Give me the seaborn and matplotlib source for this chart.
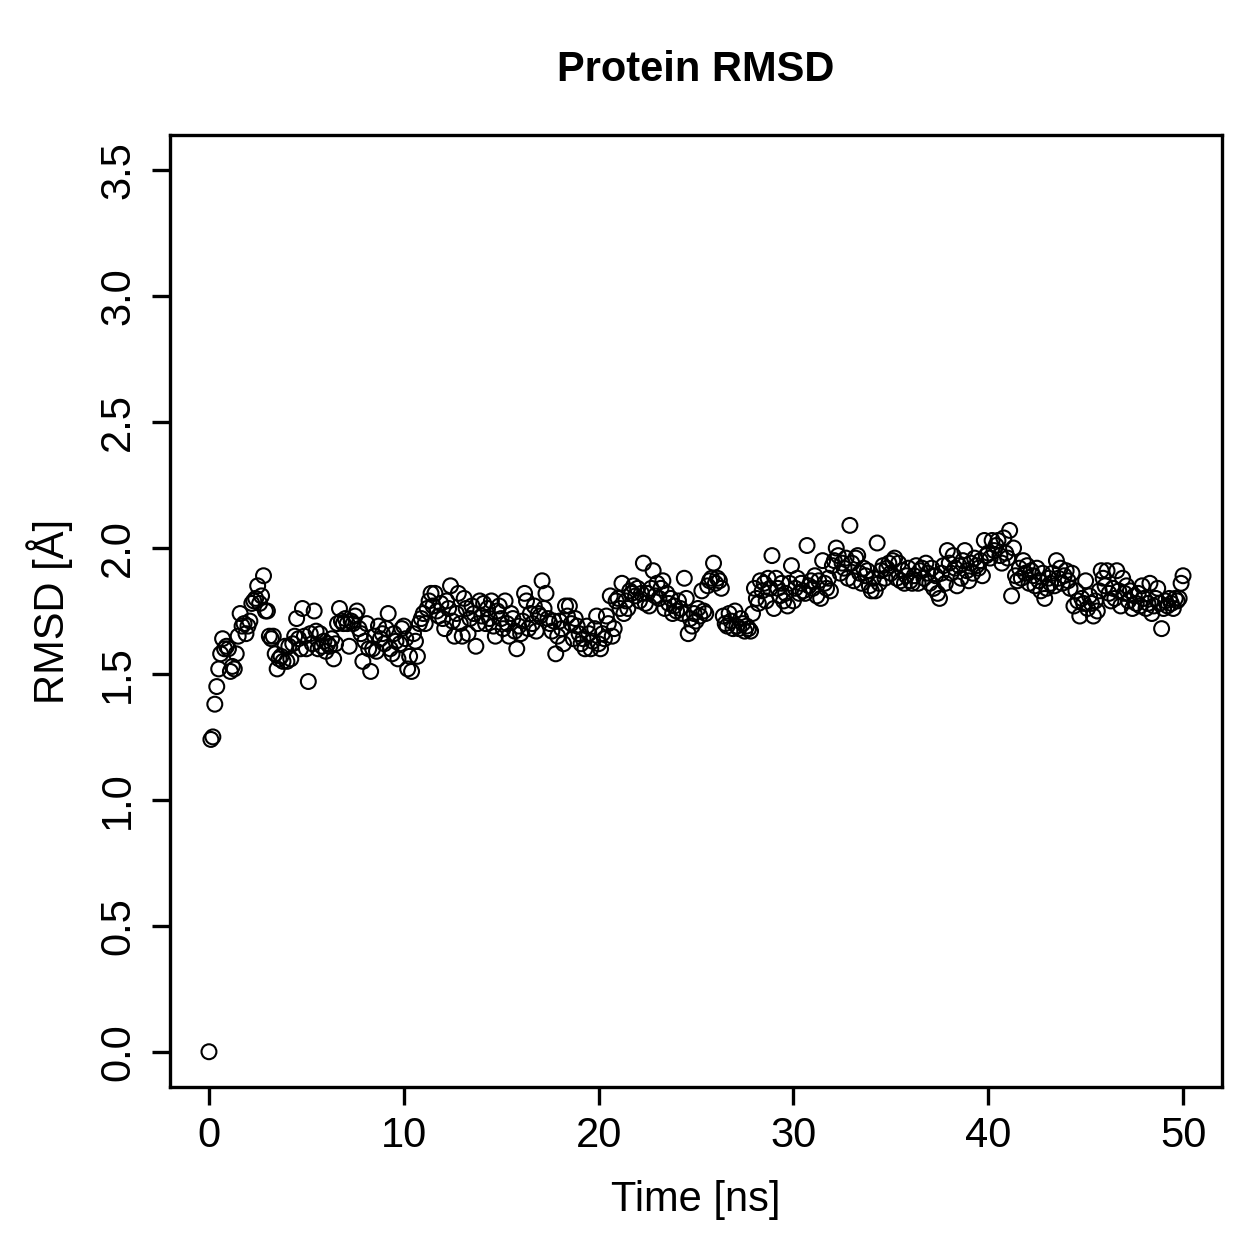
import numpy as np
import pandas as pd
import matplotlib
matplotlib.use("Agg")
import matplotlib.pyplot as plt
import seaborn as sns

# RMSD values every 0.1 ns (0.0 .. 50.0 ns)
rmsd_00_05 = [0.00, 1.24, 1.25, 1.38, 1.45, 1.52, 1.58, 1.64, 1.60, 1.61,
              1.60, 1.51, 1.53, 1.52, 1.58, 1.65, 1.74, 1.69, 1.70, 1.66,
              1.69, 1.71, 1.78, 1.79, 1.80, 1.85, 1.78, 1.81, 1.89, 1.75,
              1.75, 1.65, 1.64, 1.65, 1.58, 1.52, 1.56, 1.57, 1.55, 1.61,
              1.55, 1.61, 1.56, 1.62, 1.65, 1.72, 1.64, 1.60, 1.76, 1.65]
rmsd_05_10 = [1.60, 1.47, 1.66, 1.62, 1.75, 1.67, 1.60, 1.66, 1.61, 1.63,
              1.59, 1.62, 1.61, 1.64, 1.56, 1.62, 1.70, 1.76, 1.71, 1.70,
              1.72, 1.70, 1.61, 1.71, 1.70, 1.73, 1.75, 1.68, 1.66, 1.55,
              1.63, 1.70, 1.60, 1.51, 1.60, 1.65, 1.59, 1.69, 1.64, 1.66,
              1.62, 1.68, 1.74, 1.60, 1.58, 1.66, 1.63, 1.56, 1.62, 1.68]
rmsd_10_15 = [1.69, 1.64, 1.52, 1.57, 1.51, 1.66, 1.63, 1.57, 1.70, 1.72,
              1.74, 1.70, 1.76, 1.79, 1.82, 1.77, 1.82, 1.75, 1.73, 1.78,
              1.72, 1.68, 1.79, 1.76, 1.85, 1.71, 1.65, 1.74, 1.82, 1.70,
              1.65, 1.80, 1.76, 1.66, 1.72, 1.77, 1.74, 1.61, 1.70, 1.79,
              1.73, 1.78, 1.70, 1.76, 1.72, 1.79, 1.69, 1.65, 1.75, 1.77]
rmsd_15_20 = [1.72, 1.68, 1.79, 1.70, 1.65, 1.74, 1.72, 1.67, 1.60, 1.69,
              1.66, 1.71, 1.82, 1.79, 1.68, 1.74, 1.70, 1.77, 1.67, 1.74,
              1.73, 1.87, 1.76, 1.82, 1.72, 1.70, 1.67, 1.71, 1.58, 1.65,
              1.71, 1.68, 1.62, 1.77, 1.73, 1.77, 1.70, 1.64, 1.72, 1.69,
              1.66, 1.62, 1.64, 1.60, 1.69, 1.66, 1.60, 1.63, 1.68, 1.73]
rmsd_20_25 = [1.62, 1.60, 1.66, 1.64, 1.73, 1.70, 1.81, 1.65, 1.68, 1.79,
              1.80, 1.76, 1.86, 1.74, 1.79, 1.76, 1.83, 1.82, 1.85, 1.81,
              1.84, 1.79, 1.82, 1.94, 1.78, 1.82, 1.77, 1.84, 1.91, 1.81,
              1.86, 1.80, 1.84, 1.87, 1.76, 1.82, 1.78, 1.80, 1.74, 1.77,
              1.75, 1.79, 1.76, 1.74, 1.88, 1.80, 1.66, 1.72, 1.69, 1.74]
rmsd_25_30 = [1.71, 1.76, 1.73, 1.83, 1.75, 1.74, 1.85, 1.87, 1.88, 1.94,
              1.86, 1.88, 1.87, 1.84, 1.73, 1.70, 1.69, 1.74, 1.71, 1.68,
              1.75, 1.69, 1.68, 1.72, 1.70, 1.67, 1.69, 1.68, 1.67, 1.74,
              1.84, 1.80, 1.78, 1.87, 1.83, 1.86, 1.79, 1.88, 1.84, 1.97,
              1.76, 1.88, 1.84, 1.81, 1.86, 1.79, 1.82, 1.77, 1.86, 1.93]
rmsd_30_35 = [1.79, 1.84, 1.88, 1.82, 1.86, 1.83, 1.82, 2.01, 1.85, 1.87,
              1.84, 1.89, 1.81, 1.87, 1.80, 1.95, 1.86, 1.84, 1.88, 1.83,
              1.93, 1.95, 2.00, 1.97, 1.90, 1.94, 1.92, 1.96, 1.88, 2.09,
              1.94, 1.87, 1.96, 1.97, 1.90, 1.86, 1.92, 1.89, 1.91, 1.85,
              1.83, 1.88, 1.83, 2.02, 1.86, 1.91, 1.93, 1.88, 1.92, 1.94]
rmsd_35_40 = [1.90, 1.95, 1.96, 1.88, 1.94, 1.87, 1.91, 1.86, 1.89, 1.92,
              1.87, 1.86, 1.89, 1.93, 1.86, 1.91, 1.92, 1.88, 1.94, 1.90,
              1.86, 1.92, 1.84, 1.89, 1.82, 1.80, 1.90, 1.93, 1.86, 1.99,
              1.94, 1.90, 1.97, 1.92, 1.85, 1.93, 1.88, 1.95, 1.99, 1.91,
              1.87, 1.94, 1.90, 1.96, 1.93, 1.92, 1.95, 1.89, 2.03, 1.97]
rmsd_40_45 = [1.98, 1.96, 2.03, 1.99, 2.01, 2.03, 1.97, 1.94, 2.04, 1.98,
              1.96, 2.07, 1.81, 2.00, 1.89, 1.87, 1.92, 1.88, 1.95, 1.90,
              1.93, 1.86, 1.91, 1.89, 1.85, 1.92, 1.87, 1.83, 1.90, 1.80,
              1.84, 1.88, 1.86, 1.90, 1.85, 1.95, 1.88, 1.92, 1.86, 1.89,
              1.91, 1.87, 1.84, 1.90, 1.77, 1.83, 1.79, 1.73, 1.80, 1.78]
rmsd_45_50 = [1.87, 1.76, 1.81, 1.78, 1.73, 1.79, 1.75, 1.83, 1.91, 1.88,
              1.85, 1.91, 1.82, 1.79, 1.84, 1.80, 1.91, 1.83, 1.77, 1.88,
              1.82, 1.85, 1.79, 1.83, 1.76, 1.81, 1.78, 1.82, 1.77, 1.85,
              1.80, 1.76, 1.78, 1.86, 1.74, 1.77, 1.80, 1.84, 1.78, 1.68,
              1.76, 1.79, 1.77, 1.80, 1.78, 1.76, 1.80, 1.79, 1.80, 1.86,
              1.89]

rmsd = (rmsd_00_05 + rmsd_05_10 + rmsd_10_15 + rmsd_15_20 + rmsd_20_25 +
        rmsd_25_30 + rmsd_30_35 + rmsd_35_40 + rmsd_40_45 + rmsd_45_50)
time_ns = [round(i * 0.1, 1) for i in range(len(rmsd))]

x_ticks = [0, 10, 20, 30, 40, 50]
y_ticks = [0.0, 0.5, 1.0, 1.5, 2.0, 2.5, 3.0, 3.5]
y_tick_labels = ["0.0", "0.5", "1.0", "1.5", "2.0", "2.5", "3.0", "3.5"]

df = pd.DataFrame({"Time": time_ns, "RMSD": rmsd})

sns.set_style("ticks")
plt.rcParams['font.family'] = ['Liberation Sans', 'DejaVu Sans']
plt.rcParams['text.color'] = 'black'
plt.rcParams['axes.labelcolor'] = 'black'
plt.rcParams['xtick.color'] = 'black'
plt.rcParams['ytick.color'] = 'black'

fig = plt.figure(figsize=(12.59, 12.59), dpi=100)
ax = fig.add_axes([170 / 1259, 1 - 1087 / 1259, (1222 - 170) / 1259, (1087 - 135) / 1259])

sns.scatterplot(data=df, x="Time", y="RMSD", ax=ax, s=115, marker="o",
                facecolors="none", edgecolor="black", linewidth=1.5)

ax.set_xlim(-2, 52)
ax.set_ylim(-0.14, 3.64)
ax.set_xticks(x_ticks)
ax.set_xticklabels([str(v) for v in x_ticks])
ax.set_yticks(y_ticks)
ax.set_yticklabels(y_tick_labels, rotation=90, va="center")

for sp in ax.spines.values():
    sp.set_linewidth(2.4)
    sp.set_color("black")
ax.tick_params(axis="both", direction="out", length=13, width=2.4,
               labelsize=30, colors="black", pad=8)
ax.tick_params(axis="y", pad=10)

ax.set_xlabel("Time [ns]", fontsize=30, color="black")
ax.set_ylabel("RMSD [Å]", fontsize=30, color="black")
ax.xaxis.set_label_coords(0.5, -(1200 - 1087) / (1087 - 135), transform=ax.transAxes)
ax.yaxis.set_label_coords(-(170 - 50) / (1222 - 170), 0.5, transform=ax.transAxes)
ax.xaxis.label.set_va("center")
ax.yaxis.label.set_va("center")

fig.text((170 + 1222) / 2 / 1259, 1 - 70 / 1259, "Protein RMSD", ha="center", va="center",
         fontsize=30, fontweight="bold", color="black")

fig.savefig("out.png", dpi=100, facecolor="white")
